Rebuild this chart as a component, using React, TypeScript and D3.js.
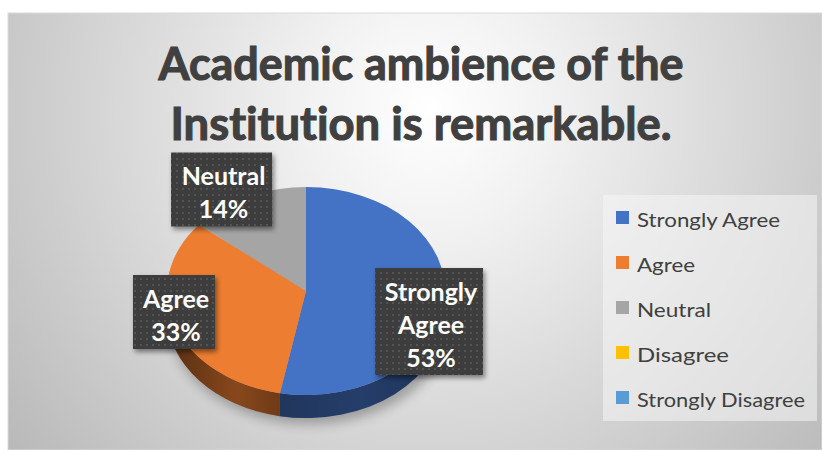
import React from "react";
import * as d3 from "d3";

const categories = ["Strongly Agree", "Agree", "Neutral", "Disagree", "Strongly Disagree"];
const values = [53, 33, 14, 0, 0];
const colors = ["#4472c4", "#ed7d31", "#a5a5a5", "#ffc000", "#5b9bd5"];
const titleLines = ["Academic ambience of the", "Institution is remarkable."];

// layout
const W = 822, H = 450;
const cx = 306, cy = 291, rx = 139, ry = 104, depth = 23;
const labelNudge: [number, number][] = [[-1.5, 21.7], [-14.3, -10.7], [-31.2, -16.8], [0, 0], [0, 0]];
const labelWidth = [108, 82, 101, 90, 90];
const LINE = 33;
const FONT = "Lato, 'Open Sans', 'DejaVu Sans', sans-serif";
const noLiga = { fontVariantLigatures: "none", fontFeatureSettings: "'liga' 0" } as any;

const P = (t: number, f = 1, dy = 0): [number, number] => [cx + rx * f * Math.sin(t), cy - ry * f * Math.cos(t) + dy];

export default function App() {
  const arcs = d3.pie<number>().sort(null).value((d) => d)(values);

  const topPath = (a: number, b: number) => {
    const p0 = P(a), p1 = P(b);
    const large = b - a > Math.PI ? 1 : 0;
    return `M${cx},${cy}L${p0[0]},${p0[1]}A${rx},${ry} 0 ${large} 1 ${p1[0]},${p1[1]}Z`;
  };
  const sidePath = (a0: number, b0: number) => {
    const a = Math.max(a0, Math.PI / 2), b = Math.min(b0, (3 * Math.PI) / 2);
    if (b <= a) return null;
    const p0 = P(a), p1 = P(b), q1 = P(b, 1, depth), q0 = P(a, 1, depth);
    return `M${p0[0]},${p0[1]}A${rx},${ry} 0 0 1 ${p1[0]},${p1[1]}L${q1[0]},${q1[1]}A${rx},${ry} 0 0 0 ${q0[0]},${q0[1]}Z`;
  };

  return (
    <svg width={W} height={H} style={{ position: "absolute", left: 0, top: 0 }}>
      <defs>
        <radialGradient id="bg" gradientUnits="userSpaceOnUse" cx={430} cy={110} r={540}>
          <stop offset="0" stopColor="#ffffff" />
          <stop offset="0.22" stopColor="#f2f2f2" />
          <stop offset="1" stopColor="#b9b9b9" />
        </radialGradient>
        <pattern id="dots" width="6" height="6" patternUnits="userSpaceOnUse">
          <rect width="6" height="6" fill="#3d3d3d" />
          <circle cx="3" cy="3" r="0.9" fill="#5c5c5c" />
        </pattern>
        <filter id="boxShadow" x="-20%" y="-20%" width="150%" height="150%">
          <feDropShadow dx="2" dy="3" stdDeviation="2.5" floodColor="#000" floodOpacity="0.45" />
        </filter>
        <filter id="pieShadow" x="-30%" y="-30%" width="160%" height="160%">
          <feGaussianBlur stdDeviation="6" />
        </filter>
        <linearGradient id="sideShade" gradientUnits="userSpaceOnUse" x1={cx - rx} x2={cx + rx} y1={0} y2={0}>
          <stop offset="0" stopColor="#000" stopOpacity="0.45" />
          <stop offset="0.25" stopColor="#000" stopOpacity="0.15" />
          <stop offset="0.4" stopColor="#000" stopOpacity="0.3" />
          <stop offset="0.7" stopColor="#000" stopOpacity="0.2" />
          <stop offset="1" stopColor="#000" stopOpacity="0.35" />
        </linearGradient>
      </defs>

      <rect x={8} y={13} width={W - 8} height={H - 13} fill="url(#bg)" stroke="#d9d9d9" strokeWidth={1} />

      {titleLines.map((t, i) => (
        <text key={t} x={421} y={80 + i * 60} textAnchor="middle" fontFamily={FONT} fontWeight="bold" fontSize={45}
          fill="#404040" stroke="#404040" strokeWidth={1.1} style={noLiga}
          textLength={i === 0 ? 525 : 501} lengthAdjust="spacingAndGlyphs">{t}</text>
      ))}

      <ellipse cx={cx + 4} cy={cy + depth + 6} rx={rx + 2} ry={ry} fill="#000" opacity={0.28} filter="url(#pieShadow)" />

      {arcs.map((a, i) => {
        if (a.endAngle - a.startAngle <= 0) return null;
        const d = sidePath(a.startAngle, a.endAngle);
        if (!d) return null;
        const c = d3.color(colors[i])!.darker(1.1).formatHex();
        return (
          <g key={"s" + i}>
            <path d={d} fill={c} />
            <path d={d} fill="url(#sideShade)" />
          </g>
        );
      })}

      {arcs.map((a, i) =>
        a.endAngle - a.startAngle > 0 ? <path key={"t" + i} d={topPath(a.startAngle, a.endAngle)} fill={colors[i]} /> : null
      )}

      {arcs.map((a, i) => {
        if (values[i] <= 0) return null;
        const mid = (a.startAngle + a.endAngle) / 2;
        const [px, py] = P(mid, 0.9);
        const lx = px + labelNudge[i][0], ly = py + labelNudge[i][1];
        const lines = [...categories[i].split(" "), `${values[i]}%`];
        const h = lines.length * LINE + 8;
        const w = labelWidth[i];
        return (
          <g key={"l" + i}>
            <rect x={lx - w / 2} y={ly - h / 2} width={w} height={h} fill="url(#dots)" filter="url(#boxShadow)" />
            {lines.map((s, j) => (
              <text key={j} x={lx + 2} y={ly + (j - (lines.length - 1) / 2) * LINE + 12} textAnchor="middle"
                fontFamily={FONT} fontWeight="bold" fontSize={25} fill="#ffffff" style={noLiga}>{s}</text>
            ))}
          </g>
        );
      })}

      <rect x={603} y={195} width={214} height={226} fill="#f6f6f6" opacity={0.55} />
      {categories.map((c, i) => (
        <g key={"g" + i} transform={`translate(616,${211 + i * 45})`}>
          <rect width={13} height={13} fill={colors[i]} />
          <text x={21} y={16} fontFamily={FONT} fontSize={19} fill="#404040" style={noLiga}
            textLength={[143, 58, 74, 92, 168][i]} lengthAdjust="spacingAndGlyphs">{c}</text>
        </g>
      ))}
    </svg>
  );
}
